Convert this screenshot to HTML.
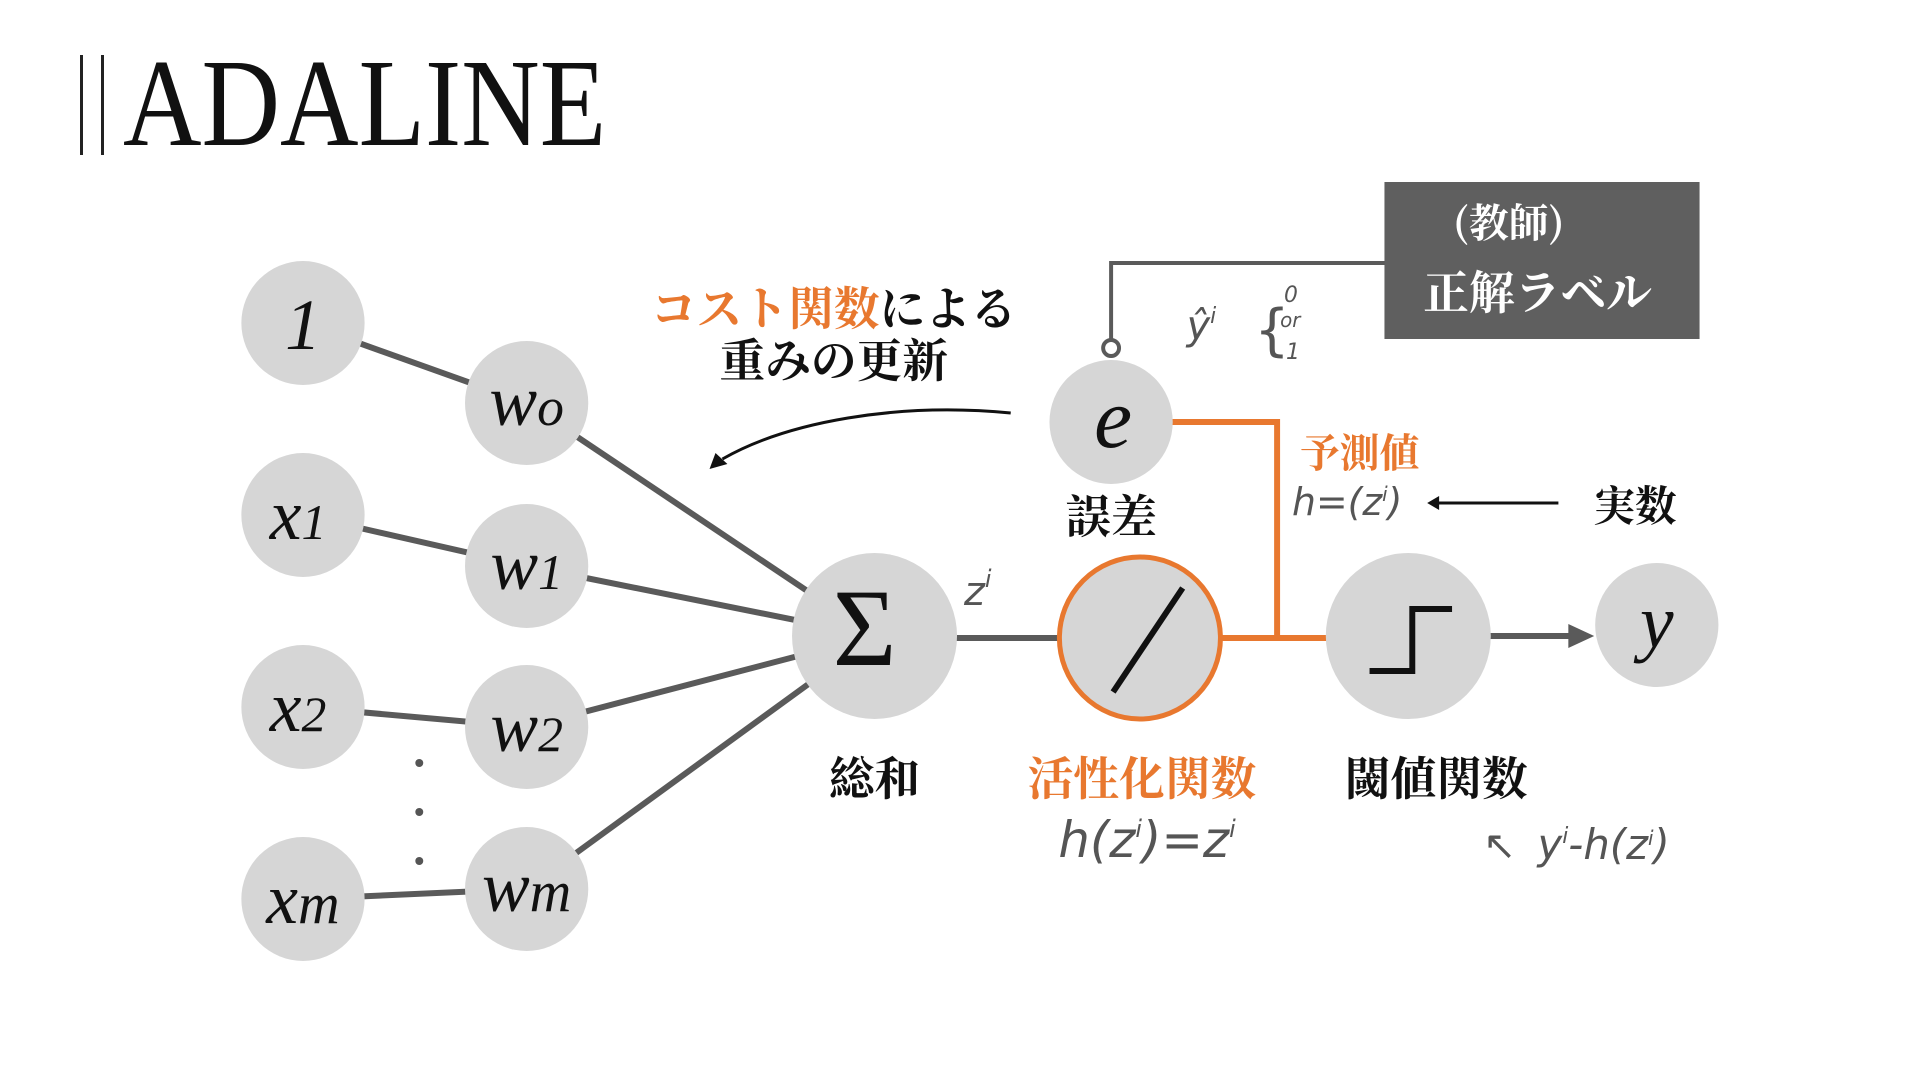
<!DOCTYPE html>
<html><head><meta charset="utf-8"><style>
html,body{margin:0;padding:0;background:#fff;width:1920px;height:1080px;overflow:hidden}
svg{display:block}
.cjk{font-family:"Noto Serif CJK SC","Noto Sans CJK JP",serif;font-weight:700}
.node{font-family:"Liberation Serif","DejaVu Serif",serif;font-style:italic;fill:#111}
.hw{font-family:"DejaVu Sans","Liberation Sans",sans-serif;font-style:italic;fill:#555}
</style></head><body>
<svg width="1920" height="1080" viewBox="0 0 1920 1080" xmlns="http://www.w3.org/2000/svg">
<!-- title -->
<rect x="80" y="55" width="3" height="100" fill="#222"/>
<rect x="101" y="55" width="3" height="100" fill="#222"/>
<text x="123" y="145" font-family="Liberation Serif,serif" font-size="125" fill="#111" transform="translate(123 0) scale(0.87 1) translate(-123 0)">ADALINE</text>

<g transform="translate(300 -3) scale(0.994 1) translate(-300 0)">
<!-- lines -->
<g stroke="#5a5a5a" stroke-width="6" fill="none">
<line x1="303" y1="326" x2="528" y2="406"/>
<line x1="303" y1="518" x2="528" y2="569"/>
<line x1="303" y1="710" x2="528" y2="730"/>
<line x1="303" y1="902" x2="528" y2="892"/>
<line x1="528" y1="406" x2="878" y2="639"/>
<line x1="528" y1="569" x2="878" y2="639"/>
<line x1="528" y1="730" x2="878" y2="639"/>
<line x1="528" y1="892" x2="878" y2="639"/>
<line x1="878" y1="641" x2="1145" y2="641"/>
<line x1="1415" y1="639" x2="1578" y2="639"/>
</g>
<polygon points="1576,627 1602,639 1576,651" fill="#5a5a5a"/>
<g stroke="#5a5a5a" stroke-width="4" fill="none">
<polyline points="1116,346 1116,266 1395,266"/>
</g>
<circle cx="1116" cy="351" r="8" fill="#fff" stroke="#5a5a5a" stroke-width="4"/>
<g stroke="#e8782f" stroke-width="6" fill="none">
<polyline points="1116,425 1283,425 1283,641"/>
<line x1="1145" y1="641" x2="1333" y2="641"/>
</g>

<g fill="#d6d6d6">
<circle cx="303" cy="326" r="62"/>
<circle cx="303" cy="518" r="62"/>
<circle cx="303" cy="710" r="62"/>
<circle cx="303" cy="902" r="62"/>
<circle cx="528" cy="406" r="62"/>
<circle cx="528" cy="569" r="62"/>
<circle cx="528" cy="730" r="62"/>
<circle cx="528" cy="892" r="62"/>
<circle cx="878" cy="639" r="83"/>
<circle cx="1415" cy="639" r="83"/>
<circle cx="1665" cy="628" r="62"/>
<circle cx="1116" cy="425" r="62"/>
</g>
<circle cx="1145" cy="641" r="81" fill="#d6d6d6" stroke="#e8782f" stroke-width="5"/>

<g class="node" font-size="72" text-anchor="middle">
<text x="303" y="352">1</text>
<text x="298" y="542">x<tspan font-size="50">1</tspan></text>
<text x="298" y="734">x<tspan font-size="50">2</tspan></text>
<text x="303" y="926">x<tspan font-size="58">m</tspan></text>
<text x="528" y="428">w<tspan font-size="54">o</tspan></text>
<text x="528" y="592">w<tspan font-size="50">1</tspan></text>
<text x="528" y="754">w<tspan font-size="50">2</tspan></text>
<text x="528" y="914">w<tspan font-size="58">m</tspan></text>
<text x="1118" y="450" font-size="86">e</text>
<text x="1665" y="650" font-size="76">y</text>
</g>
<text x="868" y="668" font-family="Liberation Serif,serif" font-size="110" text-anchor="middle" fill="#111">Σ</text>
<line x1="1188" y1="591" x2="1118" y2="695" stroke="#111" stroke-width="6"/>
<polyline points="1376,674 1419,674 1419,612 1459,612" stroke="#111" stroke-width="6" fill="none"/>
<g fill="#555"><circle cx="420" cy="766" r="4"/><circle cx="420" cy="815" r="4"/><circle cx="420" cy="864" r="4"/></g>

<rect x="1391" y="185" width="317" height="157" fill="#5f5f5f"/>
<text class="cjk" x="1516" y="240" font-size="40" fill="#fff" text-anchor="middle">(教師)</text>
<text class="cjk" x="1545" y="312" font-size="46" fill="#fff" text-anchor="middle">正解ラベル</text>

<g class="cjk" text-anchor="middle">
<text x="837" y="328" font-size="46"><tspan fill="#e8782f">コスト関数</tspan><tspan fill="#111">による</tspan></text>
<text x="837" y="380" font-size="46" fill="#111">重みの更新</text>
<text x="878" y="798" font-size="46" fill="#111">総和</text>
<text x="1147" y="798" font-size="46" fill="#e8782f">活性化関数</text>
<text x="1443" y="798" font-size="46" fill="#111">閾値関数</text>
<text x="1116" y="536" font-size="46" fill="#111">誤差</text>
<text x="1366" y="470" font-size="40" fill="#e8782f">予測値</text>
<text x="1643" y="524" font-size="42" fill="#111">実数</text>
</g>
<line x1="1566" y1="506" x2="1442" y2="506" stroke="#111" stroke-width="3"/>
<polygon points="1434,506 1446,499 1446,513" fill="#111"/>

<path d="M1015,416 C900,405 790,425 725,462" stroke="#111" stroke-width="3" fill="none"/>
<polygon points="712,472 718,456 730,467" fill="#111"/>

<g class="hw">
<text x="1192" y="342" font-size="40">ŷ<tspan font-size="22" dy="-16">i</tspan></text>
<text x="1260" y="352" font-size="56" font-style="normal">{</text>
<text x="1290" y="305" font-size="22">0</text>
<text x="1286" y="330" font-size="20">or</text>
<text x="1292" y="362" font-size="22">1</text>
<text x="1298" y="518" font-size="38">h=(z<tspan font-size="20" dy="-14">i</tspan><tspan dy="14">)</tspan></text>
<text x="968" y="608" font-size="40">z<tspan font-size="24" dy="-18">i</tspan></text>
<text x="1063" y="860" font-size="50">h(z<tspan font-size="24" dy="-20">i</tspan><tspan dy="20">)=z</tspan><tspan font-size="24" dy="-20">i</tspan></text>
<text x="1490" y="862" font-size="40" font-style="normal">↖</text>
<text x="1545" y="862" font-size="42">y<tspan font-size="22" dy="-16">i</tspan><tspan dy="16">-h(z</tspan><tspan font-size="20" dy="-14">i</tspan><tspan dy="14">)</tspan></text>
</g>
</g>
</svg>
</body></html>
